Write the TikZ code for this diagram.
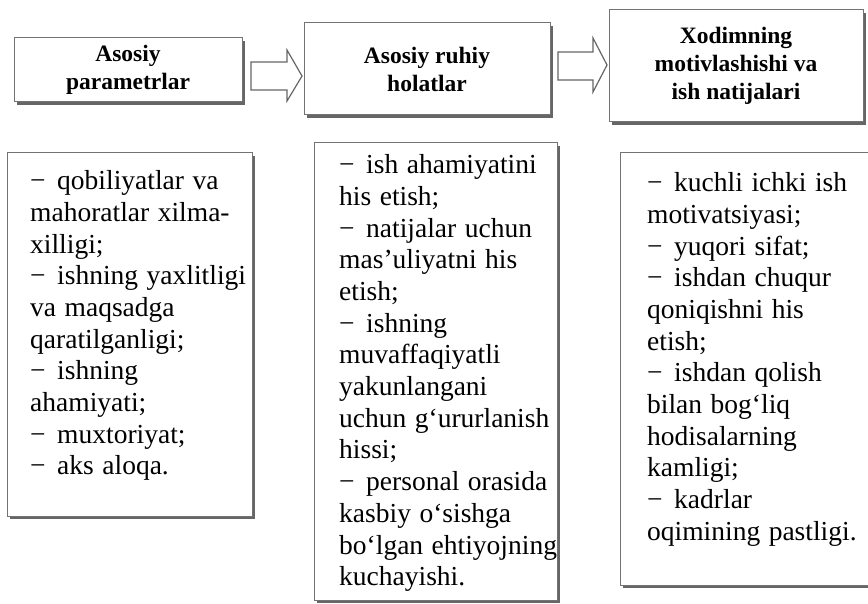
\documentclass[tikz,border=0pt]{standalone}
\usepackage{fontspec}
\setmainfont{Liberation Serif}
\usetikzlibrary{shadows}
% dash that opens each list item
\newcommand{\listdash}{−\hspace{0.42em}}
% slightly wider word spacing for the list text
\newcommand{\widewords}{\spaceskip=0.31em plus 0.1em\relax}
\begin{document}
\begin{tikzpicture}[x=1pt,y=-1pt,
  box/.style={draw=black!55, line width=1pt, fill=white, inner sep=0pt,
    drop shadow={shadow xshift=3pt, shadow yshift=-3pt, fill=black!60, opacity=1}},
  headtext/.style={font=\fontsize{23.5}{28}\selectfont\bfseries, align=center},
  bodytext/.style={font={\fontsize{27.5}{31.7}\selectfont\widewords},
    align=left, anchor=north west, inner sep=0pt},
  blockarrow/.style={draw=black!60, line width=1.2pt, fill=white, line join=miter}]
\useasboundingbox (0,0) rectangle (868,604);
\fill[white] (0,0) rectangle (868,604);

% header boxes
\node[box, headtext, minimum width=228pt, minimum height=64pt] (h1) at (128,70)
  {Asosiy\\parametrlar};
\node[box, headtext, minimum width=246pt, minimum height=92pt] (h2) at (427,69)
  {Asosiy ruhiy\\holatlar};
\node[box, headtext, minimum width=254pt, minimum height=112pt] (h3) at (736,66)
  {Xodimning\\motivlashishi va\\ish natijalari};

% hollow block arrows between the headers
\draw[blockarrow] (251,62) -- (287,62) -- (287,50) -- (302,76) -- (287,101)
  -- (287,90) -- (251,90) -- cycle;
\draw[blockarrow] (558,52) -- (593,52) -- (593,38) -- (607,65) -- (593,92)
  -- (593,80) -- (558,80) -- cycle;

% content boxes
\node[box, minimum width=245pt, minimum height=363pt] (b1) at (129.5,334.5) {};
\node[box, minimum width=243pt, minimum height=457pt] (b2) at (435.5,371.5) {};
\node[box, minimum width=251pt, minimum height=432pt] (b3) at (745.5,369) {};

\node[bodytext] (t1) at (30,170.4) {%
\listdash qobiliyatlar va\\
mahoratlar xilma-\\
xilligi;\\
\listdash ishning yaxlitligi\\
va maqsadga\\
qaratilganligi;\\
\listdash ishning\\
ahamiyati;\\
\listdash muxtoriyat;\\
\listdash aks aloqa.};

\node[bodytext] (t2) at (339,154.4) {%
\listdash ish ahamiyatini\\
his etish;\\
\listdash natijalar uchun\\
mas’uliyatni his\\
etish;\\
\listdash ishning\\
muvaffaqiyatli\\
yakunlangani\\
uchun g‘ururlanish\\
hissi;\\
\listdash personal orasida\\
kasbiy o‘sishga\\
bo‘lgan ehtiyojning\\
kuchayishi.};

\node[bodytext] (t3) at (647,172.4) {%
\listdash kuchli ichki ish\\
motivatsiyasi;\\
\listdash yuqori sifat;\\
\listdash ishdan chuqur\\
qoniqishni his\\
etish;\\
\listdash ishdan qolish\\
bilan bog‘liq\\
hodisalarning\\
kamligi;\\
\listdash kadrlar\\
oqimining pastligi.};
\end{tikzpicture}
\end{document}
